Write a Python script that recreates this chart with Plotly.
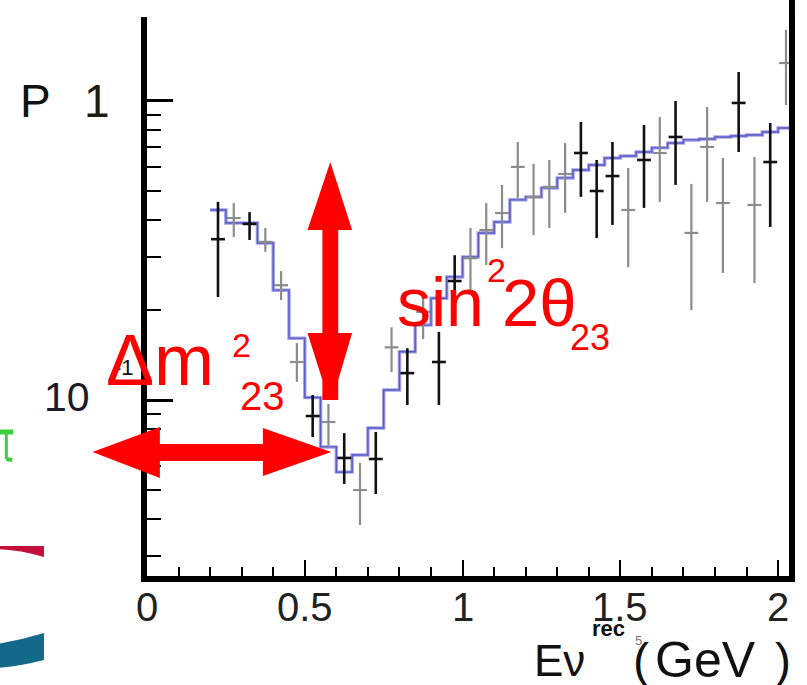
import plotly.graph_objects as go

# ---------------- data ----------------
# expected spectrum (blue step histogram), 0.05 GeV bins starting at 0.20 GeV
hist_edge0 = 0.20
hist_binw = 0.05
hist_vals = [0.432, 0.391, 0.391, 0.335, 0.233, 0.161, 0.102, 0.0697, 0.0574, 0.0655,
             0.0806, 0.108, 0.145, 0.178, 0.219, 0.258, 0.301, 0.362, 0.394, 0.467,
             0.477, 0.512, 0.553, 0.588, 0.611, 0.645, 0.655, 0.675, 0.697, 0.724,
             0.741, 0.746, 0.758, 0.764, 0.770, 0.788, 0.812]

# measured points (bin centres, value, upper and lower error-bar ends)
data_x = [0.225, 0.275, 0.325, 0.375, 0.425, 0.475, 0.525, 0.575, 0.625, 0.675,
          0.725, 0.775, 0.825, 0.875, 0.925, 0.975, 1.025, 1.075, 1.125, 1.175,
          1.225, 1.275, 1.325, 1.375, 1.425, 1.475, 1.525, 1.575, 1.625, 1.675,
          1.725, 1.775, 1.825, 1.875, 1.925, 1.975, 2.025]
data_y = [0.345, 0.406, 0.388, 0.338, 0.242, 0.134, 0.0884, 0.0844, 0.0640, 0.0500,
          0.0635, 0.150, 0.123, 0.197, 0.134, 0.250, 0.298, 0.370, 0.422, 0.602,
          0.478, 0.516, 0.570, 0.670, 0.500, 0.561, 0.432, 0.635, 0.670, 0.758,
          0.362, 0.702, 0.456, 0.985, 0.449, 0.625, 1.34]
data_hi = [0.460, 0.456, 0.425, 0.376, 0.270, 0.155, 0.104, 0.0970, 0.0775, 0.0616,
           0.0782, 0.175, 0.149, 0.230, 0.169, 0.305, 0.376, 0.456, 0.524, 0.729,
           0.616, 0.635, 0.724, 0.851, 0.635, 0.729, 0.597, 0.831, 0.884, 1.00,
           0.528, 0.955, 0.645, 1.25, 0.650, 0.844, 1.73]
data_lo = [0.221, 0.351, 0.343, 0.313, 0.216, 0.115, 0.0752, 0.0696, 0.0524, 0.0382,
           0.0485, 0.124, 0.0962, 0.160, 0.0962, 0.190, 0.233, 0.283, 0.322, 0.474,
           0.356, 0.376, 0.422, 0.478, 0.348, 0.385, 0.278, 0.439, 0.460, 0.524,
           0.200, 0.460, 0.266, 0.675, 0.246, 0.379, 0.970]
# rendering shade of each point in the scanned plot: B = black, G = grey
data_shade = ["B", "G", "B", "G", "G", "G", "B", "G", "B", "G",
              "B", "G", "B", "G", "B", "B", "G", "G", "G", "G",
              "G", "G", "G", "B", "B", "B", "G", "B", "G", "B",
              "G", "G", "G", "B", "G", "B", "G"]

x_tick_vals = [0, 0.5, 1, 1.5, 2]
x_tick_text = ["0", "0.5", "1", "1.5", "2"]
x_minor_vals = [0.1, 0.2, 0.3, 0.4, 0.6, 0.7, 0.8, 0.9, 1.1, 1.2, 1.3, 1.4,
                1.6, 1.7, 1.8, 1.9]
y_major_vals = [0.1, 1]
y_minor_vals = [0.03, 0.04, 0.05, 0.06, 0.07, 0.08, 0.09,
                0.2, 0.3, 0.4, 0.5, 0.6, 0.7, 0.8, 0.9]

# ---------------- layout geometry ----------------
W, H = 807, 685
ML, MR, MT, MB = 147, 12, 17, 109
PW, PH = W - ML - MR, H - MT - MB
FONT = "Liberation Sans, Arial, Helvetica, sans-serif"


def PX(x):
    return (x - ML) / PW


def PY(y):
    return (H - MB - y) / PH


def poly(points):
    s = "M " + " L ".join(f"{PX(x):.5f},{PY(y):.5f}" for x, y in points) + " Z"
    return s


fig = go.Figure()

# histogram (step)
step_x = [hist_edge0 + i * hist_binw for i in range(len(hist_vals) + 1)]
step_y = hist_vals + [hist_vals[-1]]
fig.add_trace(go.Scatter(x=step_x, y=step_y, mode="lines", line_shape="hv",
                         line=dict(color="#a4a4ec", width=3.5), hoverinfo="skip",
                         showlegend=False))
fig.add_trace(go.Scatter(x=step_x, y=step_y, mode="lines", line_shape="hv",
                         line=dict(color="rgba(30,30,160,0.55)", width=1.4),
                         hoverinfo="skip", showlegend=False))

for shade, col, th in (("G", "#8c8c8c", 2.2), ("B", "#111111", 2.6)):
    idx = [i for i, s in enumerate(data_shade) if s == shade]
    xs = [data_x[i] for i in idx]
    ys = [data_y[i] for i in idx]
    up = [data_hi[i] - data_y[i] for i in idx]
    dn = [data_y[i] - data_lo[i] for i in idx]
    fig.add_trace(go.Scatter(
        x=xs, y=ys, mode="markers", marker=dict(size=0.1, color=col),
        error_y=dict(type="data", symmetric=False, array=up, arrayminus=dn,
                     width=0, thickness=th, color=col),
        error_x=dict(type="constant", value=0.022, width=0, thickness=th, color=col),
        showlegend=False, hoverinfo="skip"))

fig.update_layout(
    width=W, height=H,
    margin=dict(l=ML, r=MR, t=MT, b=MB),
    paper_bgcolor="white", plot_bgcolor="white",
    font=dict(family=FONT, color="#111"),
    xaxis=dict(range=[0, 2.0345], showgrid=False, zeroline=False,
               showline=True, linewidth=6, linecolor="black",
               ticks="inside", ticklen=16, tickwidth=2, tickcolor="black",
               tickvals=x_tick_vals, showticklabels=False,
               minor=dict(tickvals=x_minor_vals, ticks="inside", ticklen=9,
                          tickwidth=2, tickcolor="black", showgrid=False)),
    yaxis=dict(type="log", range=[-1.5886, 0.2809], showgrid=False, zeroline=False,
               showline=True, linewidth=6, linecolor="black", mirror=True,
               ticks="inside", ticklen=26, tickwidth=2.5, tickcolor="black",
               tickvals=y_major_vals, showticklabels=False,
               minor=dict(tickvals=y_minor_vals, ticks="inside", ticklen=14,
                          tickwidth=2, tickcolor="black", showgrid=False)),
)

shapes = []
# right frame bar continues to the top of the picture
shapes.append(dict(type="line", xref="paper", yref="paper",
                   x0=PX(798), x1=PX(798), y0=1, y1=PY(-2),
                   line=dict(color="black", width=6)))
# red double arrows
RED = "#ff0000"
shapes.append(dict(type="path", xref="paper", yref="paper", fillcolor=RED,
                   line=dict(width=0), path=poly([
                       (92, 452), (160, 427), (160, 444), (264, 444), (264, 428),
                       (333, 452), (264, 476), (264, 461), (160, 461), (160, 478)])))
shapes.append(dict(type="path", xref="paper", yref="paper", fillcolor=RED,
                   line=dict(width=0), path=poly([
                       (332, 162), (354, 230), (340, 230), (340, 333), (354, 333),
                       (340, 380), (340, 400), (324, 400), (324, 380), (309, 333),
                       (324, 333), (324, 230), (309, 230)])))
# slide decorations at the left edge
shapes.append(dict(type="path", xref="paper", yref="paper", fillcolor="#c20f3a",
                   line=dict(width=0),
                   path=f"M {PX(-5):.5f},{PY(546):.5f} L {PX(43):.5f},{PY(546):.5f} "
                        f"L {PX(43):.5f},{PY(557):.5f} Q {PX(20):.5f},{PY(550):.5f} "
                        f"{PX(-5):.5f},{PY(549):.5f} Z"))
shapes.append(dict(type="path", xref="paper", yref="paper", fillcolor="#14698a",
                   line=dict(width=0),
                   path=f"M {PX(-5):.5f},{PY(644):.5f} Q {PX(20):.5f},{PY(640):.5f} "
                        f"{PX(43):.5f},{PY(633):.5f} L {PX(43):.5f},{PY(660):.5f} "
                        f"Q {PX(20):.5f},{PY(666):.5f} {PX(-5):.5f},{PY(668):.5f} Z"))
GREEN = "#3ccf3c"
shapes.append(dict(type="line", xref="paper", yref="paper", x0=PX(-2), x1=PX(12),
                   y0=PY(432), y1=PY(432), line=dict(color=GREEN, width=5)))
shapes.append(dict(type="line", xref="paper", yref="paper", x0=PX(5), x1=PX(5),
                   y0=PY(432), y1=PY(459), line=dict(color=GREEN, width=3)))
shapes.append(dict(type="line", xref="paper", yref="paper", x0=PX(5), x1=PX(11),
                   y0=PY(459), y1=PY(460), line=dict(color=GREEN, width=4)))
fig.update_layout(shapes=shapes)


def txt(s, x, y, size, color="#111", xanchor="left", bold=False):
    if bold:
        s = "<b>" + s + "</b>"
    return dict(text=s, x=PX(x), y=PY(y), xref="paper", yref="paper",
                xanchor=xanchor, yanchor="middle", showarrow=False,
                font=dict(size=size, color=color, family=FONT))


ann = []
# x tick labels placed at their axis values
for v, t in zip(x_tick_vals, x_tick_text):
    ann.append(dict(text=t, x=v, y=PY(607), xref="x", yref="paper",
                    xanchor="center", yanchor="middle", showarrow=False,
                    font=dict(size=40, color="#222", family=FONT)))
ann += [
    txt("P", 17, 101, 46),
    txt("1", 97, 101, 46, color="#231a12", xanchor="center"),
    txt("10", 66, 397, 41, color="#1a1a28", xanchor="center"),
    txt("-1", 124, 367, 22, xanchor="center"),
    txt("Δm", 104, 360, 72, color=RED),
    txt("2", 231, 345, 34, color=RED),
    txt("23", 239, 396, 40, color=RED),
    txt("sin", 397, 302, 68, color=RED),
    txt("2", 488, 270, 34, color=RED),
    txt("2θ", 503, 302, 67, color=RED),
    txt("23", 572, 337, 36, color=RED),
    txt("Eν", 536, 660, 44),
    txt("rec", 594, 628, 22, bold=True),
    txt("(", 636, 660, 48),
    txt("GeV", 711, 660, 50, xanchor="center"),
    txt(")", 799, 660, 48, xanchor="right"),
    txt("5", 643, 640, 13, color="#777", xanchor="center"),
]
fig.update_layout(annotations=ann)

fig.write_html("out.html")
